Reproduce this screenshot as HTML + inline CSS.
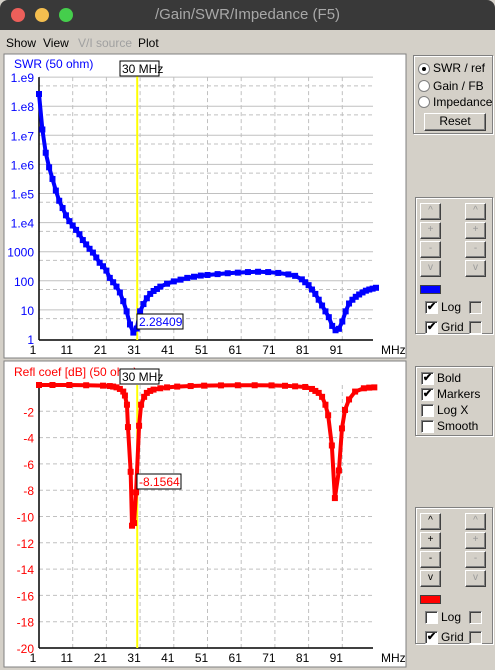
<!DOCTYPE html>
<html><head><meta charset="utf-8"><style>
*{margin:0;padding:0;box-sizing:border-box}
body{width:495px;height:670px;background:#d4d0c8;font-family:"Liberation Sans",sans-serif;font-size:12px;position:relative;overflow:hidden}
.abs{position:absolute}
.grp{position:absolute;border:1px solid #808080;box-shadow:1px 1px 0 #fff inset,1px 1px 0 #fff}
.btn{position:absolute;width:21px;height:17px;background:#d4d0c8;border:1px solid;border-color:#fff #404040 #404040 #fff;box-shadow:-1px -1px 0 #808080 inset;font-size:10px;text-align:center;line-height:14px;color:#000}
.btn.dis{color:#999}
.cb{position:absolute;width:13px;height:13px;background:#fff;border:1px solid;border-color:#808080 #fff #fff #808080;box-shadow:1px 1px 0 #404040 inset;font-size:11px;line-height:11px;text-align:center;font-weight:bold}
.cb.off{background:#d4d0c8}
.lbl{position:absolute;font-size:12px;color:#000}
.rad{position:absolute;width:12px;height:12px;border-radius:50%;background:#fff;border:1px solid #808080}
</style></head><body>
<div class="abs" style="left:0;top:0;width:495px;height:30px;background:#393939;border-radius:8px 8px 0 0"></div>
<div class="abs" style="left:11px;top:8px;width:14px;height:14px;border-radius:50%;background:#ec5f5a"></div>
<div class="abs" style="left:35px;top:8px;width:14px;height:14px;border-radius:50%;background:#f4be4f"></div>
<div class="abs" style="left:59px;top:8px;width:14px;height:14px;border-radius:50%;background:#45ce4c"></div>
<div class="abs" style="left:0;top:6px;width:495px;text-align:center;color:#a8a8a8;font-size:15px">/Gain/SWR/Impedance (F5)</div>
<div class="abs" style="left:6px;top:36px">Show</div>
<div class="abs" style="left:43px;top:36px">View</div>
<div class="abs" style="left:78px;top:36px;color:#a0a0a0">V/I source</div>
<div class="abs" style="left:138px;top:36px">Plot</div>

<svg class="abs" style="left:0;top:0" width="495" height="670" font-family="Liberation Sans, sans-serif">
<rect x="4" y="54" width="402" height="304" fill="#fff" stroke="#808080"/>
<rect x="4" y="361" width="402" height="306" fill="#fff" stroke="#808080"/>
<g id="top"></g><g id="bot"></g>
</svg>

<div class="grp" style="left:413px;top:55px;width:80px;height:79px"></div>
<div class="rad" style="left:418px;top:63px"><div style="width:4px;height:4px;background:#000;border-radius:50%;margin:3px"></div></div>
<div class="lbl" style="left:433px;top:61px">SWR / ref</div>
<div class="rad" style="left:418px;top:80px"></div>
<div class="lbl" style="left:433px;top:79px">Gain / FB</div>
<div class="rad" style="left:418px;top:96px"></div>
<div class="lbl" style="left:433px;top:95px">Impedance</div>
<div class="btn" style="left:424px;top:113px;width:62px;height:18px;font-size:12px;line-height:15px">Reset</div>

<div id="ctl"></div>

<div class="grp" style="left:415px;top:366px;width:78px;height:70px"></div>
<div class="cb" style="left:421px;top:372px">✔</div><div class="lbl" style="left:437px;top:371px">Bold</div>
<div class="cb" style="left:421px;top:388px">✔</div><div class="lbl" style="left:437px;top:387px">Markers</div>
<div class="cb" style="left:421px;top:404px"></div><div class="lbl" style="left:437px;top:403px">Log X</div>
<div class="cb" style="left:421px;top:420px"></div><div class="lbl" style="left:437px;top:419px">Smooth</div>

<script>
const NS="http://www.w3.org/2000/svg";
const swrFreq=[1,2,3,4,5,6,7,8,9,10,11,12,13,14,15,16,17,18,19,20,21,22,23,24,25,26,27,28,29,30,31,32,33,34,35,36,37,39,41,43,45,47,49,51,54,57,60,63,66,69,72,75,77,79,80,81,82,83,84,85,86,87,88,89,90,91,92,93,94,95,96,97,98,99,100,101];
const swrLog=[8.42,7.2,6.4,5.9,5.5,5.1,4.75,4.5,4.25,4.05,3.9,3.75,3.6,3.4,3.25,3.1,2.97,2.8,2.62,2.5,2.35,2.1,1.95,1.8,1.6,1.3,0.95,0.5,0.22,0.36,0.95,1.2,1.4,1.55,1.65,1.72,1.8,1.9,1.98,2.04,2.1,2.14,2.18,2.2,2.23,2.26,2.28,2.3,2.31,2.3,2.27,2.22,2.17,2.05,1.95,1.85,1.7,1.55,1.35,1.15,0.95,0.75,0.45,0.3,0.35,0.6,0.95,1.22,1.35,1.45,1.53,1.6,1.66,1.7,1.73,1.76];
const swrTicks=["1","10","100","1000","1.e4","1.e5","1.e6","1.e7","1.e8","1.e9"];
const rcFreq=[1,5,10,15,20,22,23,24,25,26,26.5,27.1,27.4,28.2,28.6,29.2,29.8,30.7,31.3,32.2,33,34,35,37,39,42,46,50,55,60,65,70,74,77,80,82,83,84,85,86,86.8,87.9,88.8,90,90.9,91.8,93,94.8,97.4,99,100.5];
const rcDb=[0,0,0,-0.02,-0.05,-0.08,-0.12,-0.18,-0.3,-0.5,-0.8,-1.5,-3.2,-6.6,-10.7,-10.5,-8.16,-3.1,-1.5,-0.9,-0.6,-0.45,-0.35,-0.25,-0.18,-0.12,-0.08,-0.05,-0.03,-0.02,-0.02,-0.03,-0.06,-0.1,-0.15,-0.3,-0.45,-0.6,-0.9,-1.5,-2.3,-4.6,-8.6,-6.5,-3.3,-1.9,-1.1,-0.5,-0.25,-0.2,-0.18];
const dbTicks=[-2,-4,-6,-8,-10,-12,-14,-16,-18,-20];
const xTicks=[1,11,21,31,41,51,61,71,81,91];
const cursorFreq=30, swrCursor="2.28409", rcCursor="-8.1564";

const X=f=>39+(f-1)*3.37;
const Ytop=l=>339-l*29.1;
const YB=d=>385+(-d)*13.15;
function el(p,t,a,txt){const e=document.createElementNS(NS,t);for(const k in a)e.setAttribute(k,a[k]);if(txt!==undefined)e.textContent=txt;p.appendChild(e);return e;}
function xaxis(g,y0,axisY){
  for(const t of xTicks){ if(t>1){const l=el(g,'line',{x1:X(t),x2:X(t),y1:y0,y2:axisY,stroke:'#c0c0c0','stroke-dasharray':'4,3'});
  
  }
  const tx=el(g,'text',{x:X(t)-6,y:axisY+14,'font-size':12,'text-anchor':'middle',fill:'#000'},t);
  
  }
  const u=el(g,'text',{x:381,y:axisY+14,'font-size':12,fill:'#000'},'MHz');
  
  
}
const gTop=document.getElementById('top'), gBot=document.getElementById('bot');
for(let i=0;i<swrTicks.length;i++){
  const y=Ytop(i);
  if(i>0){const l=el(gTop,'line',{x1:39,x2:373,y1:y,y2:y,stroke:'#c0c0c0'});
  
  }
  if(i<9){const d=el(gTop,'line',{x1:39,x2:373,y1:Ytop(i+0.7),y2:Ytop(i+0.7),stroke:'#c0c0c0','stroke-dasharray':'4,3'});
  
  }
  const t=el(gTop,'text',{x:34,y:y+5,'font-size':12,'text-anchor':'end',fill:'#0000ff'},swrTicks[i]);
  
  
}
xaxis(gTop,Ytop(9),340);
el(gTop,'line',{x1:39,x2:39,y1:Ytop(9),y2:340,stroke:'#000','stroke-width':1.5});
el(gTop,'line',{x1:39,x2:373,y1:340,y2:340,stroke:'#000','stroke-width':1.5});
for(const d of dbTicks){
  const y=YB(d);
  if(d>-20){const l=el(gBot,'line',{x1:39,x2:373,y1:y,y2:y,stroke:'#c0c0c0','stroke-dasharray':'4,3'});
  
  }
  const t=el(gBot,'text',{x:34,y:y+5,'font-size':12,'text-anchor':'end',fill:'#ff0000'},d);
  
  
}
xaxis(gBot,385,648);
el(gBot,'line',{x1:39,x2:39,y1:385,y2:648,stroke:'#000','stroke-width':1.5});
el(gBot,'line',{x1:39,x2:373,y1:648,y2:648,stroke:'#000','stroke-width':1.5});
for(const [g,y0,y1] of [[gTop,76,340],[gBot,385,648]]){
  const c=el(g,'line',{x1:X(cursorFreq)+0.5,x2:X(cursorFreq)+0.5,y1:y0,y2:y1,stroke:'#ffff00','stroke-width':2});
  
  
}
function series(g,fs,vs,yf,color,name){
  const pl=el(g,'polyline',{points:fs.map((f,i)=>X(f)+','+yf(vs[i])).join(' '),fill:'none',stroke:color,'stroke-width':4,'stroke-linejoin':'round'});
  
  
  fs.forEach((f,i)=>{const m=el(g,'rect',{x:X(f)-3,y:yf(vs[i])-3,width:6,height:6,fill:color});
  
  });
}
series(gTop,swrFreq,swrLog,Ytop,'#0000ff','swr');
series(gBot,rcFreq,rcDb,YB,'#ff0000','refl-coef');
function box(g,x,y,w,txt,color,name){
  const r=el(g,'rect',{x:x,y:y,width:w,height:15,fill:'#fff',stroke:'#000'});
  
  
  el(g,'text',{x:x+2,y:y+12,'font-size':12,fill:color},txt);
}
const t1=el(gTop,'text',{x:14,y:68,'font-size':12,fill:'#0000ff'},'SWR (50 ohm)');


const t2=el(gBot,'text',{x:14,y:376,'font-size':12,fill:'#ff0000'},'Refl coef [dB] (50 ohm)');


box(gTop,120,61,39,'30 MHz','#000','cursor-freq-label');
box(gBot,120,369,39,'30 MHz','#000','cursor-freq-label');
box(gTop,137,314,46,swrCursor,'#0000ff','swr-value-label');
box(gBot,137,474,44,rcCursor,'#ff0000','refl-value-label');

const ctl=document.getElementById('ctl');
function group(gy,color,logOn,name){
  const g=document.createElement('div');g.className='grp';g.style.cssText=`left:415px;top:${gy}px;width:78px;height:137px`;
  
  
  ctl.appendChild(g);
  const sy=['^','+','-','v'];
  sy.forEach((s,i)=>{[420,465].forEach((x,j)=>{const b=document.createElement('div');b.className='btn'+(j||color=='#0000ff'?' dis':'');
    b.style.left=x+'px';b.style.top=(gy+6+i*19)+'px';b.textContent=s;
    
    
    ctl.appendChild(b);});});
  const c=document.createElement('div');c.className='abs';c.style.cssText=`left:420px;top:${gy+88}px;width:21px;height:9px;background:${color};border:1px solid #404040`;
  
  
  ctl.appendChild(c);
  [['Log',logOn,104],['Grid',true,124]].forEach(([t,on,dy])=>{
    const b=document.createElement('div');b.className='cb';b.style.left='425px';b.style.top=(gy+dy)+'px';b.textContent=on?'✔':'';
    
    
    ctl.appendChild(b);
    const l=document.createElement('div');l.className='lbl';l.style.left='441px';l.style.top=(gy+dy-1)+'px';l.textContent=t;
    
    
    ctl.appendChild(l);
    const b2=document.createElement('div');b2.className='cb off';b2.style.left='469px';b2.style.top=(gy+dy)+'px';
    
    
    ctl.appendChild(b2);
  });
}
group(197,'#0000ff',true,'swr');
group(507,'#ff0000',false,'refl');
</script>
</body></html>
